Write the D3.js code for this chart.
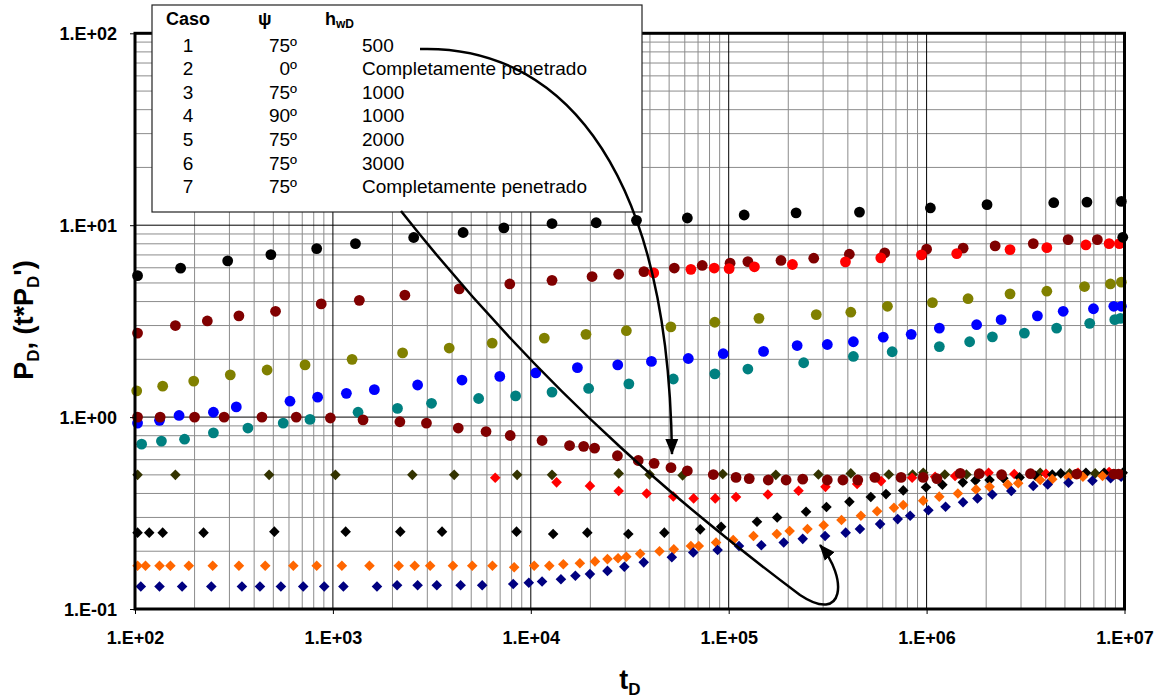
<!DOCTYPE html>
<html><head><meta charset="utf-8">
<script src="https://cdn.jsdelivr.net/npm/d3@7"></script>
<style>body{margin:0;background:#fff}svg{display:block}text{font-family:"Liberation Sans",Arial,sans-serif}</style>
</head><body><svg id="c" width="1171" height="698"></svg>
<script>
// ---------- data (t_D, P_D) ----------
const xTicks = [1e2, 1e3, 1e4, 1e5, 1e6, 1e7];
const yTicks = [1e-1, 1e0, 1e1, 1e2];

const tBlackC = [103,170,294,486,828,1300,2560,4550,7310,12800,21400,34200,61800,119700,219000,458000,1045000,2020000,4390000,6460000,9640000,9800000];
const pBlackC = [5.46,5.97,6.52,7.03,7.55,8.02,8.63,9.16,9.68,10.2,10.3,10.6,10.9,11.3,11.6,11.7,12.3,12.8,13.1,13.2,13.3,8.65];

const tMaroonC = [103,160,232,335,513,873,1360,2310,4350,7830,12800,20400,27800,37300,53100,73500,101600,125000,183700,269000,407000,614000,1000000,1530000,2220000,3460000,5190000,7290000];
const pMaroonC = [2.74,3.0,3.17,3.37,3.56,3.89,4.06,4.32,4.66,4.94,5.16,5.40,5.55,5.73,5.98,6.17,6.34,6.46,6.55,6.73,7.06,7.18,7.50,7.59,7.80,8.02,8.41,8.41];

const tRedC = [41800,64400,84500,100500,134900,209900,389000,587000,942000,1420000,2640000,4050000,6380000,8360000,9420000];
const pRedC = [5.64,5.89,5.98,5.94,6.07,6.24,6.44,6.76,7.0,7.11,7.46,7.64,7.89,8.02,8.02];

const tOliveC = [102,138,198,303,465,723,1250,2250,3870,6380,11700,19000,30400,51000,85100,142200,277000,414000,634000,1070000,1620000,2640000,4050000,6280000,8490000,9640000];
const pOliveC = [1.37,1.45,1.54,1.66,1.76,1.87,2.0,2.16,2.29,2.43,2.58,2.70,2.82,2.95,3.12,3.27,3.42,3.52,3.78,3.95,4.14,4.39,4.53,4.79,4.94,5.05];

const tBlueC = [103,133,167,249,325,607,837,1170,1620,2680,4490,6970,10600,17200,27500,40700,62500,93800,150000,221800,315000,426600,604000,836000,1160000,1790000,2380000,3630000,4900000,6970000,8830000,9640000];
const pBlueC = [0.931,0.962,1.02,1.06,1.13,1.21,1.27,1.33,1.39,1.47,1.56,1.63,1.70,1.81,1.87,1.95,2.02,2.14,2.20,2.36,2.39,2.47,2.61,2.70,2.91,3.03,3.22,3.37,3.56,3.67,3.78,3.78];

const tTealC = [108,136,178,249,372,561,766,1340,2120,3150,5450,8380,12800,19600,31300,52500,85100,125000,239300,426600,670000,1160000,1650000,2150000,3120000,4540000,6670000,8930000,9530000];
const pTealC = [0.723,0.750,0.767,0.828,0.877,0.931,0.973,1.06,1.11,1.18,1.25,1.29,1.35,1.41,1.49,1.58,1.68,1.78,1.92,2.07,2.19,2.33,2.47,2.62,2.74,2.91,3.08,3.22,3.27];

const tMaroonDerC = [103,134,200,282,438,653,971,1420,2180,2970,4300,5940,7870,11400,15700,18500,21000,27400,34900,42000,51100,61800,83600,108900,127000,158500,195000,236600,315000,377600,449000,548000,743000,961000,1127000,1479000,1845000,2393000,3350000,5730000,8830000,9330000];
const pMaroonDerC = [1.0,1.0,1.0,1.0,1.0,1.0,0.989,0.968,0.946,0.931,0.877,0.841,0.802,0.755,0.711,0.704,0.689,0.629,0.594,0.574,0.545,0.525,0.502,0.485,0.478,0.470,0.470,0.475,0.470,0.470,0.470,0.485,0.485,0.485,0.478,0.509,0.507,0.501,0.507,0.505,0.505,0.505];

const tOliveD = [103,160,476,1030,2520,4100,8530,12800,27800,39800,58500,93300,173000,284000,414000,644000,850000,962000,1236000,1590000,3750000,5280000,7110000];
const pOliveD = [0.5,0.5,0.5,0.5,0.5,0.5,0.5,0.5,0.509,0.502,0.497,0.505,0.5,0.502,0.509,0.502,0.502,0.513,0.502,0.502,0.513,0.509,0.509];

const tRedD = [6610,13500,19900,27800,38500,52500,66500,85500,108900,157800,225400,308300,445700,589000,845000,1104000,1393000,2056000,2773000,4010000,5820000,8360000];
const pRedD = [0.483,0.457,0.438,0.412,0.400,0.386,0.377,0.377,0.383,0.395,0.413,0.433,0.448,0.464,0.483,0.489,0.493,0.513,0.505,0.507,0.513,0.518];

const tBlackD = [103,118,138,222,506,1160,2190,3560,8470,12970,19300,31100,47300,71800,91600,139000,175800,246000,311900,407400,522400,623700,762100,993100,1202000,1524000,1766000,2080000,2443000,2951000,3548000,4315000,4764000,6383000,7889000,9795000];
const pBlackD = [0.25,0.25,0.25,0.25,0.253,0.253,0.253,0.253,0.253,0.246,0.25,0.246,0.25,0.26,0.268,0.285,0.30,0.321,0.34,0.362,0.383,0.397,0.415,0.431,0.444,0.457,0.468,0.47,0.48,0.485,0.495,0.502,0.509,0.513,0.513,0.513];

const tOrangeD = [103,113,133,151,187,247,335,455,631,828,1110,1530,2150,2590,3100,4040,5060,6400,8240,10400,12400,14600,17700,21100,24400,27600,30400,35700,44700,52800,64400,70600,86300,105400,133400,175000,203200,250000,302000,371500,465600,562300,684000,762000,961000,1159000,1439000,1778000,2080000,2570000,2904000,3750000,4315000,5212000,6166000,7745000,9616000];
const pOrangeD = [0.168,0.168,0.168,0.168,0.168,0.168,0.168,0.168,0.168,0.168,0.168,0.168,0.168,0.168,0.168,0.168,0.168,0.168,0.165,0.168,0.168,0.171,0.173,0.177,0.182,0.184,0.187,0.194,0.200,0.205,0.213,0.213,0.222,0.229,0.240,0.246,0.255,0.261,0.273,0.291,0.306,0.323,0.337,0.348,0.367,0.385,0.400,0.420,0.433,0.446,0.452,0.470,0.475,0.487,0.489,0.493,0.502];

const tNavyD = [107,133,173,243,347,428,546,708,904,1130,1670,2110,2680,3350,4420,5680,8150,9770,11400,14200,16800,19900,24400,29700,37200,51600,66200,87900,112700,146200,189700,236600,306900,390000,460300,582100,714500,826000,1021000,1247000,1528000,1807000,2148000,2679000,3459000,4093000,5212000,6887000,8511000,9616000];
const pNavyD = [0.131,0.131,0.131,0.131,0.131,0.131,0.131,0.131,0.131,0.131,0.131,0.133,0.133,0.133,0.133,0.133,0.135,0.137,0.139,0.143,0.149,0.152,0.158,0.166,0.175,0.186,0.197,0.203,0.213,0.215,0.222,0.232,0.240,0.250,0.261,0.277,0.294,0.306,0.327,0.341,0.360,0.377,0.395,0.412,0.438,0.446,0.455,0.466,0.480,0.489];

const legendCases = ["1","2","3","4","5","6","7"];
const legendAngles = ["75º","0º","75º","90º","75º","75º","75º"];
const legendHwd = ["500","Completamente penetrado","1000","1000","2000","3000","Completamente penetrado"];

// ---------- chart ----------
const svg = d3.select("#c");
svg.append("rect").attr("width",1171).attr("height",698).attr("fill","#fff");
const L = 135, R = 1124.5, T = 33.3, B = 609;
const x = d3.scaleLog().domain([1e2,1e7]).range([L,R]);
const y = d3.scaleLog().domain([0.1,100]).range([B,T]);

const minorX = [], minorY = [];
for (let e = 2; e < 7; e++) for (let k = 2; k <= 9; k++) minorX.push(k*Math.pow(10,e));
for (let e = -1; e < 2; e++) for (let k = 2; k <= 9; k++) minorY.push(k*Math.pow(10,e));

const grid = svg.append("g");
grid.selectAll(".mx").data(minorX).enter().append("line")
  .attr("x1",d=>x(d)).attr("x2",d=>x(d)).attr("y1",T).attr("y2",B)
  .attr("stroke","#8c8c8c").attr("stroke-width",1);
grid.selectAll(".my").data(minorY).enter().append("line")
  .attr("y1",d=>y(d)).attr("y2",d=>y(d)).attr("x1",L).attr("x2",R)
  .attr("stroke","#8c8c8c").attr("stroke-width",1);
grid.selectAll(".Mx").data(xTicks).enter().append("line")
  .attr("x1",d=>x(d)).attr("x2",d=>x(d)).attr("y1",T).attr("y2",B)
  .attr("stroke","#000").attr("stroke-width",1);
grid.selectAll(".My").data(yTicks).enter().append("line")
  .attr("y1",d=>y(d)).attr("y2",d=>y(d)).attr("x1",L).attr("x2",R)
  .attr("stroke","#000").attr("stroke-width",1);

const zip = (ts, ps) => ts.map((t,i)=>({t:t,p:ps[i]}));
const diamond = d3.symbol().type(d3.symbolSquare).size(56);

function diamonds(ts, ps, color) {
  svg.append("g").selectAll("path").data(zip(ts,ps)).enter().append("path")
    .attr("d", diamond)
    .attr("transform", d=>`translate(${x(d.t)},${y(d.p)}) rotate(45)`)
    .attr("fill", color);
}
function circles(ts, ps, color) {
  svg.append("g").selectAll("circle").data(zip(ts,ps)).enter().append("circle")
    .attr("cx", d=>x(d.t)).attr("cy", d=>y(d.p)).attr("r", 5.4)
    .attr("fill", color);
}
diamonds(tOliveD, pOliveD, "#333300");
diamonds(tRedD, pRedD, "#ff0000");
diamonds(tBlackD, pBlackD, "#000000");
diamonds(tOrangeD, pOrangeD, "#ff6600");
diamonds(tNavyD, pNavyD, "#000080");
circles(tTealC, pTealC, "#008080");
circles(tBlueC, pBlueC, "#0000ff");
circles(tOliveC, pOliveC, "#808000");
circles(tMaroonC, pMaroonC, "#800000");
circles(tRedC, pRedC, "#ff0000");
circles(tMaroonDerC, pMaroonDerC, "#800000");
circles(tBlackC, pBlackC, "#000000");

// axes
const fmt = d => { const e = Math.round(Math.log10(d)); return "1.E" + (e<0?"-":"+") + String(Math.abs(e)).padStart(2,"0"); };
const xa = svg.append("g").attr("transform",`translate(0,${B})`)
  .call(d3.axisBottom(x).tickValues(xTicks).tickFormat(fmt).tickSize(5).tickSizeOuter(0));
xa.select(".domain").remove();
xa.selectAll("line").attr("stroke","#000").attr("stroke-width",1);
xa.selectAll("text").attr("y",35).attr("dy",0).attr("fill","#000")
  .style("font-size","18px").style("font-weight","bold").style("font-family","'Liberation Sans',Arial,sans-serif");
const ya = svg.append("g").attr("transform",`translate(${L},0)`)
  .call(d3.axisLeft(y).tickValues(yTicks).tickFormat(fmt).tickSize(5).tickSizeOuter(0));
ya.select(".domain").remove();
ya.selectAll("line").attr("stroke","#000").attr("stroke-width",1);
ya.selectAll("text").attr("x",-18).attr("dy","0.36em").attr("fill","#000")
  .style("font-size","18px").style("font-weight","bold").style("font-family","'Liberation Sans',Arial,sans-serif");

svg.append("rect").attr("x",L).attr("y",T).attr("width",R-L).attr("height",B-T)
  .attr("fill","none").attr("stroke","#000").attr("stroke-width",3);

// axis titles
const yt = svg.append("text").attr("transform","translate(33,320) rotate(-90)")
  .attr("text-anchor","middle").style("font-size","27px").style("font-weight","bold");
yt.append("tspan").text("P");
yt.append("tspan").attr("dy",6).style("font-size","17px").text("D");
yt.append("tspan").attr("dy",-6).text(", (t*P");
yt.append("tspan").attr("dy",6).style("font-size","17px").text("D");
yt.append("tspan").attr("dy",-6).text("')");

const xt = svg.append("text").attr("x",630).attr("y",689)
  .attr("text-anchor","middle").style("font-size","27px").style("font-weight","bold");
xt.append("tspan").text("t");
xt.append("tspan").attr("dy",6).style("font-size","17px").text("D");

// legend box
const lg = svg.append("g");
lg.append("rect").attr("x",152).attr("y",5).attr("width",490).attr("height",207)
  .attr("fill","#fff").attr("stroke","#222").attr("stroke-width",1.2);
lg.append("text").attr("x",166).attr("y",25).style("font-size","18px").style("font-weight","bold").text("Caso");
lg.append("text").attr("x",258).attr("y",25).style("font-size","18px").style("font-weight","bold").text("ψ");
const hw = lg.append("text").attr("x",325).attr("y",25).style("font-size","18px").style("font-weight","bold");
hw.append("tspan").text("h");
hw.append("tspan").attr("dy",3).style("font-size","12px").text("wD");
legendCases.forEach((c,i)=>{
  const by = 51.5 + i*23.6;
  lg.append("text").attr("x",188).attr("y",by).attr("text-anchor","middle").style("font-size","19px").text(c);
  lg.append("text").attr("x",297).attr("y",by).attr("text-anchor","end").style("font-size","19px").text(legendAngles[i]);
  lg.append("text").attr("x",362).attr("y",by).style("font-size","19px").text(legendHwd[i]);
});

// arrows
const defs = svg.append("defs");
defs.append("marker").attr("id","ah").attr("markerUnits","userSpaceOnUse")
  .attr("viewBox","0 -7 16 14").attr("markerWidth",16).attr("markerHeight",14)
  .attr("refX",15).attr("refY",0).attr("orient","auto")
  .append("path").attr("d","M0,-6.5L16,0L0,6.5Z").attr("fill","#000");
svg.append("path").attr("d","M420,49 C550,45 668,150 672,454")
  .attr("fill","none").attr("stroke","#000").attr("stroke-width",2.5).attr("marker-end","url(#ah)");
svg.append("path").attr("d","M401,211 C550,400 700,520 800,595 C845,625 848,578 820,545")
  .attr("fill","none").attr("stroke","#000").attr("stroke-width",2.5).attr("marker-end","url(#ah)");
</script></body></html>
